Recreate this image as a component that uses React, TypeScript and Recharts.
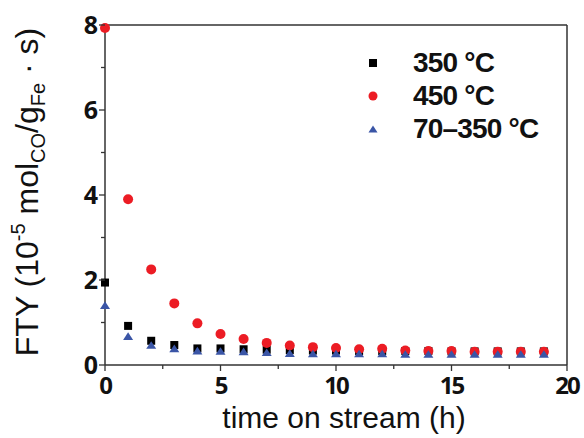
import React from 'react';
import { ScatterChart, Scatter, XAxis, YAxis, Legend, ReferenceLine } from 'recharts';

const hours = [0, 1, 2, 3, 4, 5, 6, 7, 8, 9, 10, 11, 12, 13, 14, 15, 16, 17, 18, 19];
const fty350 = [1.94, 0.92, 0.57, 0.47, 0.39, 0.39, 0.37, 0.36, 0.35, 0.34, 0.34, 0.33, 0.33, 0.33, 0.33, 0.32, 0.32, 0.32, 0.32, 0.32];
const fty450 = [7.93, 3.9, 2.25, 1.45, 0.98, 0.73, 0.61, 0.52, 0.46, 0.42, 0.4, 0.37, 0.38, 0.34, 0.33, 0.33, 0.31, 0.31, 0.31, 0.31];
const fty70to350 = [1.41, 0.68, 0.47, 0.39, 0.34, 0.33, 0.32, 0.3, 0.28, 0.27, 0.27, 0.27, 0.27, 0.26, 0.26, 0.26, 0.26, 0.26, 0.26, 0.26];
const seriesNames = ['350 °C', '450 °C', '70–350 °C'];
const xTicks = [0, 2.5, 5, 7.5, 10, 12.5, 15, 17.5, 20];
const yTicks = [0, 1, 2, 3, 4, 5, 6, 7, 8];

const colors = ['#000000', '#ec1c24', '#3a55a6'];
const shapes = ['square', 'circle', 'triangle'];
const axisColor = '#333';
const tickFont = '"Open Sans", sans-serif';

const toPoints = (ys: number[]) => hours.map((h, i) => ({ h, fty: ys[i] }));

function Marker({ cx, cy, kind, color, s }: any) {
  if (kind === 'square') return <rect x={cx - s / 2} y={cy - s / 2} width={s} height={s} fill={color} />;
  if (kind === 'circle') return <circle cx={cx} cy={cy} r={s / 2 + 0.5} fill={color} />;
  const h = s * 0.85;
  return (
    <polygon
      points={`${cx - s / 2 - 0.5},${cy + h / 2} ${cx + s / 2 + 0.5},${cy + h / 2} ${cx},${cy - h / 2}`}
      fill={color}
    />
  );
}

const XTick = ({ x, y, payload }: any) => {
  const major = payload.value % 5 === 0;
  return (
    <g>
      <line x1={x} x2={x} y1={y} y2={y + (major ? 6 : 4)} stroke={axisColor} strokeWidth={1.3} />
      {major && (
        <text x={x} y={y + 29} textAnchor="middle" fontSize={24} fontWeight={700} fontFamily={tickFont} letterSpacing={-2} fill="#111">
          {payload.value}
        </text>
      )}
    </g>
  );
};

const YTick = ({ x, y, payload }: any) => {
  const major = payload.value % 2 === 0;
  return (
    <g>
      <line x1={x} x2={x - (major ? 6 : 4)} y1={y} y2={y} stroke={axisColor} strokeWidth={1.3} />
      {major && (
        <text x={x - 7} y={y + 9} textAnchor="end" fontSize={25} fontWeight={700} fontFamily={tickFont} fill="#111">
          {payload.value}
        </text>
      )}
    </g>
  );
};

const LegendBox = () => (
  <div style={{ fontFamily: '"Liberation Sans", Arial, sans-serif', fontSize: 28, fontWeight: 700, color: '#111' }}>
    {seriesNames.map((name, i) => (
      <div key={name} style={{ display: 'flex', alignItems: 'center', height: 33, letterSpacing: -0.8 }}>
        <svg width={26} height={20} style={{ marginRight: 27 }}>
          <Marker cx={13} cy={10} kind={shapes[i]} color={colors[i]} s={8} />
        </svg>
        <span style={{ lineHeight: '30px' }}>{name}</span>
      </div>
    ))}
  </div>
);

export default function App() {
  const data = [fty350, fty450, fty70to350];
  return (
    <div style={{ position: 'absolute', left: 0, top: 0, background: '#fff' }}>
      <ScatterChart width={584} height={438} margin={{ top: 25, right: 17, bottom: 0, left: 0 }}>
        <XAxis
          type="number"
          dataKey="h"
          domain={[0, 20]}
          ticks={xTicks}
          height={73}
          tickSize={0}
          tickMargin={0}
          tick={<XTick />}
          axisLine={{ stroke: axisColor, strokeWidth: 1.5 }}
        />
        <YAxis
          type="number"
          dataKey="fty"
          domain={[0, 8]}
          ticks={yTicks}
          width={105}
          tickSize={0}
          tickMargin={0}
          tick={<YTick />}
          axisLine={{ stroke: axisColor, strokeWidth: 1.5 }}
        />
        <ReferenceLine y={8} stroke={axisColor} strokeWidth={1.5} />
        <ReferenceLine x={20} stroke={axisColor} strokeWidth={1.5} />
        {data.map((ys, i) => (
          <Scatter
            key={seriesNames[i]}
            name={seriesNames[i]}
            data={toPoints(ys)}
            fill={colors[i]}
            isAnimationActive={false}
            shape={(p: any) => <Marker cx={p.cx} cy={p.cy} kind={shapes[i]} color={colors[i]} s={i === 0 ? 8 : 9} />}
          />
        ))}
        <Legend
          layout="vertical"
          align="center"
          verticalAlign="middle"
          content={<LegendBox />}
          wrapperStyle={{ top: 46, left: 360, width: 220 }}
        />
        <text x={344} y={428} textAnchor="middle" fontSize={30} fontFamily='"Liberation Sans", Arial, sans-serif' fill="#111">
          time on stream (h)
        </text>
        <text
          x={38}
          y={192}
          transform="rotate(-90 38 192)"
          textAnchor="middle"
          fontSize={32}
          fontFamily='"Liberation Sans", Arial, sans-serif'
          fill="#111"
        >
          FTY (10
          <tspan fontSize={20} dy={-13}>-5</tspan>
          <tspan dy={13}> mol</tspan>
          <tspan fontSize={20} dy={7}>CO</tspan>
          <tspan dy={-7}>/g</tspan>
          <tspan fontSize={20} dy={7}>Fe</tspan>
          <tspan dy={-7}> · s)</tspan>
        </text>
      </ScatterChart>
    </div>
  );
}
